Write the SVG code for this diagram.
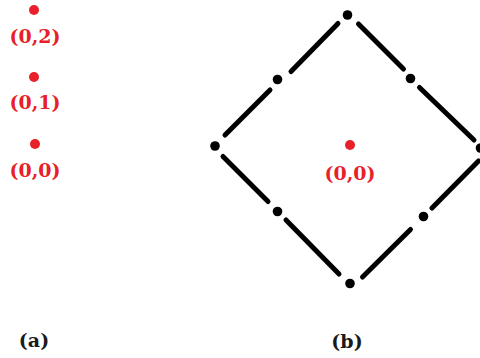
<svg xmlns="http://www.w3.org/2000/svg" width="480" height="358" viewBox="0 0 480 358">
<style>
.lbl{font-family:"DejaVu Serif","Liberation Serif",serif;font-weight:bold;font-size:19px;text-anchor:middle}
.red{fill:#e8202a}
.blk{fill:#000}
.cap{fill:#1a1a1a}
.edge{stroke:#000;stroke-width:5;stroke-linecap:round;fill:none}
</style>
<rect width="480" height="358" fill="#fff"/>
<g id="panel-a">
<g id="a-p02"><circle class="red" cx="34" cy="10" r="5"/><text class="lbl red" x="35" y="43">(0,2)</text></g>
<g id="a-p01"><circle class="red" cx="34" cy="77" r="5"/><text class="lbl red" x="35" y="108.5">(0,1)</text></g>
<g id="a-p00"><circle class="red" cx="35" cy="144" r="5"/><text class="lbl red" x="35" y="176.5">(0,0)</text></g>
<text id="cap-a" class="lbl cap" x="34" y="347">(a)</text>
</g>
<g id="connectors">
<line class="edge" x1="338" y1="23.5" x2="291" y2="71.5"/>
<line class="edge" x1="270" y1="90" x2="225" y2="135"/>
<line class="edge" x1="223" y1="156.5" x2="268" y2="201.5"/>
<line class="edge" x1="286" y1="220" x2="339" y2="274"/>
<line class="edge" x1="362.5" y1="277" x2="410.5" y2="229.5"/>
<line class="edge" x1="432" y1="208" x2="478.5" y2="161"/>
<line class="edge" x1="358.5" y1="24" x2="403.5" y2="69"/>
<line class="edge" x1="419.5" y1="87.5" x2="474" y2="140"/>
</g>
<g id="panel-b">
<g id="b-top"><circle class="blk" cx="347.5" cy="15" r="4.8"/></g>
<g id="b-ul"><circle class="blk" cx="277.5" cy="79.5" r="4.8"/></g>
<g id="b-left"><circle class="blk" cx="215" cy="146" r="4.8"/></g>
<g id="b-ll"><circle class="blk" cx="277.5" cy="211.5" r="4.8"/></g>
<g id="b-bottom"><circle class="blk" cx="350" cy="283.5" r="4.8"/></g>
<g id="b-lr"><circle class="blk" cx="423.5" cy="216.5" r="4.8"/></g>
<g id="b-right"><circle class="blk" cx="480.5" cy="148" r="4.8"/></g>
<g id="b-ur"><circle class="blk" cx="410.5" cy="78.5" r="4.8"/></g>
<g id="b-center"><circle class="red" cx="350" cy="145" r="5"/><text class="lbl red" x="350" y="179.5">(0,0)</text></g>
<text id="cap-b" class="lbl cap" x="347" y="347.5">(b)</text>
</g>
</svg>
